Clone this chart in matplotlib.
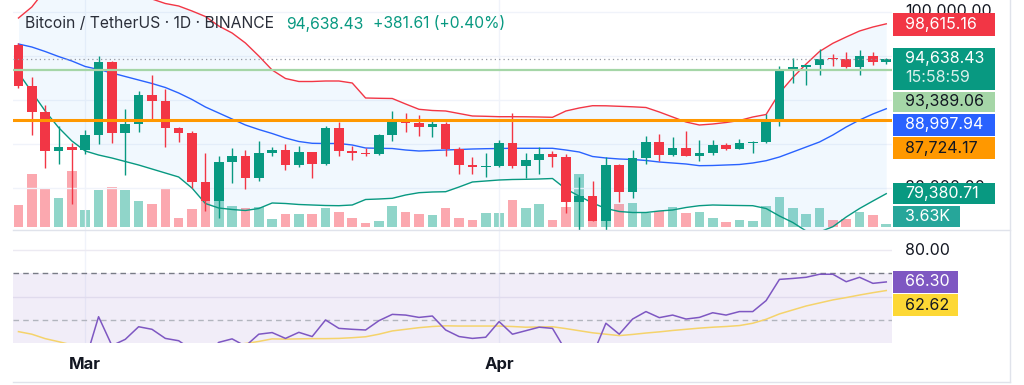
import numpy as np
import matplotlib.pyplot as plt
from matplotlib.patches import Rectangle
from matplotlib.lines import Line2D

plt.rcParams['font.family'] = ['Inter', 'DejaVu Sans']

# daily candles, 24 Feb -> 30 Apr
opens = [96258, 91553, 88680, 84250, 84708, 84349, 86064, 94270, 86221, 87281,
         90606, 89931, 86801, 86222, 80734, 78595, 82932, 83680, 81115, 83983,
         84343, 82580, 84075, 82718, 86854, 84168, 84043, 83832, 86054, 87498,
         87392, 86909, 87232, 84424, 82648, 82390, 82550, 85158, 82516, 83213,
         83889, 83537, 78430, 79163, 76322, 82615, 79607, 83423, 85276, 83760,
         84591, 83643, 84030, 84947, 84474, 85077, 85179, 87516, 93442, 93691,
         93980, 94638, 94630, 93754, 94978, 94257]
highs = [96500, 92540, 89414, 87000, 85120, 86558, 95000, 94416, 88967, 90998,
         92811, 91283, 86897, 86500, 83955, 83617, 84539, 84336, 85309, 84672,
         85051, 84756, 84075, 87000, 87453, 84782, 84513, 86094, 88765, 88539,
         88292, 87756, 87515, 84624, 83534, 83943, 85487, 88500, 83998, 84720,
         84266, 83817, 81243, 80867, 83588, 82753, 84300, 85905, 86100, 85799,
         86496, 85500, 85470, 85132, 85610, 85320, 88460, 93817, 94696, 94000,
         95758, 95199, 95369, 95630, 95470, 94800]
lows = [91350, 86050, 82256, 82716, 78258, 83824, 85050, 85117, 81500, 86379,
        87852, 84667, 85218, 80000, 77459, 76606, 80614, 79939, 80818, 83639,
        82017, 82456, 81134, 82600, 83655, 83171, 83675, 83794, 85346, 86310,
        85861, 85837, 83646, 81644, 81565, 81279, 82429, 82320, 81211, 81659,
        82379, 77153, 74508, 76239, 74620, 78464, 78936, 82792, 83034, 83678,
        83600, 83111, 83736, 84303, 84430, 83949, 85144, 87076, 91935, 91660,
        92855, 93870, 93602, 92800, 93936, 94080]
closes = [91553, 88680, 84250, 84708, 84349, 86064, 94270, 86220, 87281, 90606,
          89931, 86801, 86222, 80734, 78595, 82932, 83680, 81115, 83983, 84343,
          82580, 84075, 82718, 86854, 84168, 84043, 83832, 86054, 87498, 87392,
          86909, 87232, 84424, 82648, 82390, 82550, 85158, 82516, 83213, 83889,
          83537, 78430, 79163, 76322, 82615, 79607, 83423, 85276, 83760, 84591,
          83643, 84030, 84947, 84474, 85077, 85179, 87516, 93442, 93691, 93980,
          94638, 94630, 93754, 94978, 94257, 94638.43]
# volume in thousands
vol_k = [29.7, 71, 51, 39, 75, 23, 49.5, 54, 50, 34.7,
         31, 52.6, 12.2, 24, 35, 35, 28, 25, 26, 10.4,
         17.1, 17.1, 17.1, 25.7, 20.2, 11.2, 5.4, 7.7, 28, 20.2,
         17.1, 15.8, 24.7, 11.2, 9, 18.9, 18.9, 36, 25.7, 30.6,
         9, 26, 71, 32, 58, 30, 31.5, 18, 21.6, 26,
         18.9, 19.5, 12.2, 6, 9, 7.7, 28.4, 40.5, 25.7, 17.1,
         25.7, 9, 9.9, 20.2, 15.8, 3.63]

# bollinger bands
bb_upper = [99275, 100521, 102447, 104145, 105278, 105618, 105278, 104485, 103579, 102447,
            101427, 100918, 100634, 100068, 99445, 98370, 97577, 96444, 94972, 93386,
            92424, 92084, 92084, 92141, 92141, 91914, 90216, 90182, 90159, 89536,
            88936, 88800, 88743, 88460, 88177, 88143, 88098, 88098, 88087, 88064,
            88030, 88743, 89083, 89343, 89332, 89275, 89219, 89140, 88630, 88064,
            87498, 87158, 87271, 87441, 87668, 88064, 88347, 90782, 92537, 94066,
            95482, 96410, 97124, 97803, 98256, 98615.16]
bb_basis = [96331, 95991, 95482, 94915, 94406, 93783, 93443, 93047, 92650, 92254,
            91858, 91405, 90782, 90046, 89197, 88517, 87837, 87158, 86648, 86195,
            85685, 85289, 85085, 85063, 85063, 84893, 84553, 84519, 84496, 84326,
            84213, 84270, 84326, 84383, 84440, 84474, 84496, 84519, 84519, 84519,
            84519, 84326, 84100, 83590, 83421, 83308, 83251, 83138, 82967, 82854,
            82741, 82549, 82571, 82628, 82685, 82854, 83114, 83535, 84100, 84667,
            85233, 86025, 86932, 87724, 88404, 88997.94]
bb_lower = [93047, 90895, 88743, 86875, 85346, 84213, 83760, 83420, 83024, 82628,
            82175, 81722, 81269, 80013, 78268, 77758, 77589, 77475, 77702, 78325,
            78268, 78155, 78098, 78041, 78019, 78098, 78721, 78778, 78857, 79230,
            79491, 79570, 79604, 80136, 80703, 80816, 80929, 80986, 81008, 81042,
            81099, 79910, 79107, 78325, 77702, 77362, 77248, 77248, 77418, 77532,
            77815, 78019, 78098, 78064, 78041, 78019, 77702, 76852, 76116, 75153,
            75040, 75640, 76739, 77702, 78551, 79380.71]

rsi = [38, 33, 28, 29, 29, 32.4, 51.4, 39, 41.7, 47.1,
       46, 42.1, 41.1, 37.2, 34, 40.4, 41.9, 38.8, 43.9, 44.6,
       42.1, 44.7, 42.9, 50, 46.4, 46, 45.7, 49.7, 52.4, 52.1,
       51.1, 51.7, 45.7, 42.9, 42.1, 42.6, 49.3, 43.9, 45.4, 46.9,
       46.4, 36.8, 37.5, 34.8, 48.6, 43.9, 50.4, 53.6, 51, 52.1,
       50.4, 51.1, 53.1, 52.1, 53.6, 53.6, 58.3, 67.4, 67.8, 68.3,
       69.6, 69.6, 66.4, 68.3, 65.7, 66.3]
rsi_ma = [45, 43.9, 42, 40.7, 39.3, 38.5, 38.3, 37.8, 37.5, 37.4,
          37.6, 38, 38.4, 38.6, 38.4, 38.8, 39.2, 39.9, 40.8, 41.9,
          41.8, 41.9, 42, 42, 42.1, 42.4, 42.8, 43.9, 45.3, 46,
          46.7, 47.2, 47.5, 47.4, 47.4, 47.4, 47.4, 47.2, 46.9, 47,
          47.1, 46.3, 45.4, 44.5, 43.9, 43.3, 43.8, 44.4, 44.9, 45.5,
          46, 46.5, 46.9, 47.2, 47.6, 48.6, 50.3, 52.6, 54.3, 56,
          57.3, 58.6, 59.6, 60.7, 61.7, 62.62]

month_idx = [5, 36]
month_labels = ['Mar', 'Apr']
price_grid = [80000, 85000, 90000, 95000, 100000]
level_green = 93389.06
level_orange = 87724.17
last_price = 94638.43

GREEN = '#089981'
RED = '#F23645'
TXT = '#131722'
W, H = 1024, 385


def fx(px):
    return px / W


def fy(py):
    return 1 - py / H


fig = plt.figure(figsize=(W / 100, H / 100), dpi=100)
rect_main = [fx(13), fy(229.5), (892 - 13) / W, 229.5 / H]
ax_vol = fig.add_axes(rect_main)
ax = fig.add_axes(rect_main)
ax.set_zorder(ax_vol.get_zorder() + 1)
ax.patch.set_visible(False)
ax_rsi = fig.add_axes([fx(13), fy(343.3), (892 - 13) / W, (343.3 - 230) / H])

x = np.arange(len(closes))
up = [c >= o for o, c in zip(opens, closes)]
col = [GREEN if u else RED for u in up]

# grid
for p in price_grid:
    ax.axhline(p, color='#F0F3FA', lw=1, zorder=0)
for m in month_idx:
    ax.axvline(m, color='#F0F3FA', lw=1, zorder=0)
    ax_rsi.axvline(m, color='#F0F3FA', lw=1, zorder=0)

# volume
vcol = ['#90D5C9' if u else '#FBA8AF' for u in up]
ax_vol.bar(x, vol_k, 0.72, color=vcol, lw=0)
ax_vol.set_ylim(-3.8, 306)

# bollinger
ax.fill_between(x, bb_lower, bb_upper, color='#2196F3', alpha=0.06, lw=0, zorder=1)
ax.plot(x, bb_upper, color=RED, lw=1, zorder=2)
ax.plot(x, bb_basis, color='#2962FF', lw=1, zorder=2)
ax.plot(x, bb_lower, color=GREEN, lw=1, zorder=2)

# candles
o = np.array(opens, float)
c = np.array(closes, float)
body_lo = np.minimum(o, c)
body_h = np.maximum(np.abs(c - o), 130)
ax.vlines(x, lows, highs, colors=col, lw=1, zorder=3)
ax.bar(x, body_h, 0.72, bottom=body_lo, color=col, lw=0, zorder=3.1)

# horizontal levels
ax.axhline(level_orange, color='#FF9800', lw=2.2, zorder=4)
ax.axhline(level_green, color='#A5D6A7', lw=1.6, zorder=4)
ax.axhline(last_price, color='#9598A1', lw=0.9, ls=(0, (1, 2.5)), zorder=4)

ax.set_ylim(75323, 101314)

# RSI pane
ax_rsi.axhspan(30, 70, color='#7E57C2', alpha=0.1, lw=0)
for g in [60, 80]:
    ax_rsi.axhline(g, color='#ECEAF2', lw=1, zorder=0.5)
ax_rsi.axhline(70, color='#787B86', lw=1, ls=(0, (4, 3)))
ax_rsi.axhline(50, color='#B2B5BE', lw=1, ls=(0, (4, 3)))
ax_rsi.plot(x, rsi_ma, color='#F5D36B', lw=1.1)
ax_rsi.plot(x, rsi, color='#7E57C2', lw=1.1)
ax_rsi.set_ylim(40.0, 88.57)

for a in (ax_vol, ax, ax_rsi):
    a.set_xlim(-0.41, 65.43)
    a.set_yticks([])
    for s in a.spines.values():
        s.set_visible(False)
ax.set_xticks([])
ax_vol.set_xticks([])
ax_rsi.set_xticks(month_idx)
ax_rsi.set_xticklabels(month_labels, fontsize=12, fontweight='bold', color=TXT)
ax_rsi.tick_params(axis='x', length=0, pad=10)

# frame lines
for xs, ys in [([1010, 1010], [0, 381.7]), ([13, 1010], [381.7, 381.7]), ([13, 1010], [229.8, 229.8])]:
    fig.add_artist(Line2D([fx(v) for v in xs], [fy(v) for v in ys], color='#E0E3EB', lw=1,
                          transform=fig.transFigure))

# legend line
fig.text(fx(25), fy(24), 'Bitcoin / TetherUS · 1D · BINANCE', fontsize=11.3, color='#2A2E39', va='center')
fig.text(fx(286), fy(24), '94,638.43', fontsize=11.3, color=GREEN, va='center')
fig.text(fx(373), fy(24), '+381.61 (+0.40%)', fontsize=11.3, color=GREEN, va='center')

# scale labels half hidden behind the tags
for yy, t in [(11.5, '100,000.00'), (187.5, '80,000.00'), (250.7, '80.00')]:
    fig.text(fx(905), fy(yy), t, fontsize=11.5, color=TXT, va='center', zorder=1)


def tag(y0, y1, text, bg, fg, x1=995):
    fig.add_artist(Rectangle((fx(893), fy(y1)), (x1 - 893) / W, (y1 - y0) / H,
                             transform=fig.transFigure, color=bg, lw=0, zorder=2))
    if text:
        fig.text(fx(905), fy((y0 + y1) / 2), text, fontsize=11.5, color=fg, va='center', zorder=3)


tag(13.3, 36, '98,615.16', RED, 'white')
tag(48, 90, '', GREEN, 'white')
fig.text(fx(905), fy(59), '94,638.43', fontsize=11.5, color='white', va='center', zorder=3)
fig.text(fx(905), fy(77.5), '15:58:59', fontsize=11.5, color='white', alpha=0.85, va='center', zorder=3)
tag(91.7, 111.7, '93,389.06', '#A5D6A7', TXT)
tag(114, 136, '88,997.94', '#2962FF', 'white')
tag(137.3, 159.3, '87,724.17', '#FF9800', TXT)
tag(182.7, 204, '79,380.71', GREEN, 'white')
tag(206, 226.7, '3.63K', '#26A69A', 'white', x1=960)
tag(270.7, 293.3, '66.30', '#7E57C2', 'white', x1=958)
tag(294, 316, '62.62', '#FDD835', TXT, x1=958)

fig.savefig('out.png', dpi=100, facecolor='white')
